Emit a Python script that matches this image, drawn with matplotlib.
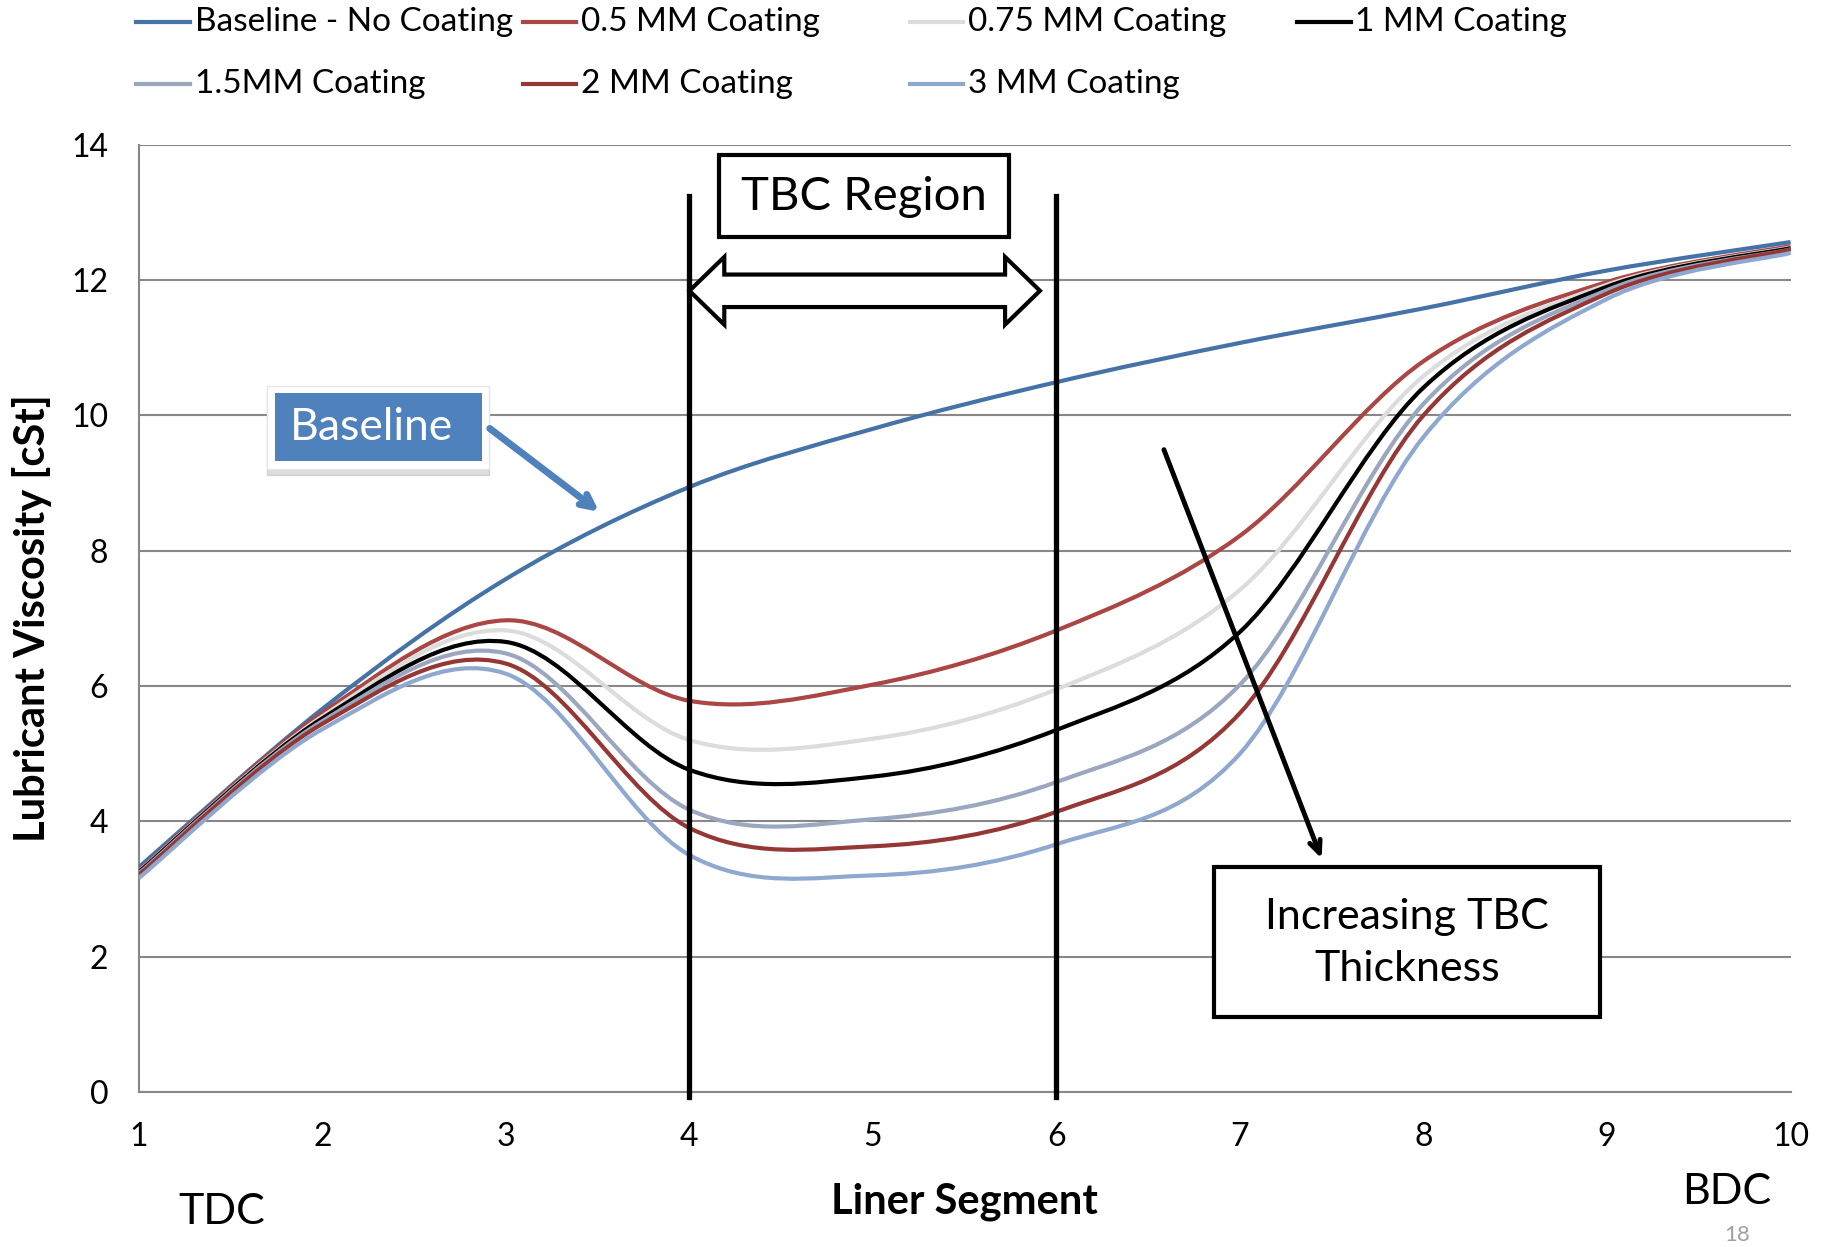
# Viscosidad del lubricante a lo largo del liner, con recubrimientos TBC
import matplotlib.pyplot as plt
import matplotlib.patches as mpatches
from matplotlib.path import Path
from matplotlib.lines import Line2D
import numpy as np

plt.rcParams['font.family'] = ['Lato', 'DejaVu Sans']

segmentos = [1, 2, 3, 4, 5, 6, 7, 8, 9, 10]

baseline = [3.32, 5.66, 7.58, 8.94, 9.80, 10.49, 11.07, 11.58, 12.14, 12.56]
mm_05 = [3.27, 5.60, 6.97, 5.78, 6.02, 6.82, 8.22, 10.80, 11.97, 12.50]
mm_075 = [3.26, 5.55, 6.82, 5.20, 5.22, 5.95, 7.42, 10.58, 11.93, 12.48]
mm_1 = [3.25, 5.52, 6.65, 4.76, 4.66, 5.35, 6.80, 10.41, 11.90, 12.47]
mm_15 = [3.23, 5.48, 6.48, 4.17, 4.03, 4.58, 6.02, 10.17, 11.85, 12.45]
mm_2 = [3.21, 5.44, 6.33, 3.90, 3.63, 4.14, 5.60, 10.00, 11.80, 12.45]
mm_3 = [3.16, 5.36, 6.18, 3.50, 3.20, 3.66, 5.00, 9.68, 11.72, 12.40]

series = [baseline, mm_05, mm_075, mm_1, mm_15, mm_2, mm_3]
etiquetas = ['Baseline - No Coating', '0.5 MM Coating', '0.75 MM Coating', '1 MM Coating',
             '1.5MM Coating', '2 MM Coating', '3 MM Coating']
colores = ['#4572A7', '#AA4643', '#DCDCDC', '#000000', '#9AA7BF', '#953735', '#8EA8D0']


# Curva suavizada tipo Excel (Bezier por segmentos)
def curva_suave(x, y):
    x = np.asarray(x, float)
    y = np.asarray(y, float)
    n = len(x)
    verts = [(x[0], y[0])]
    codes = [Path.MOVETO]
    for i in range(n - 1):
        x0, y0 = (x[i - 1], y[i - 1]) if i > 0 else (x[i], y[i])
        x3, y3 = (x[i + 2], y[i + 2]) if i + 2 < n else (x[i + 1], y[i + 1])
        c1 = (x[i] + (x[i + 1] - x0) / 6, y[i] + (y[i + 1] - y0) / 6)
        c2 = (x[i + 1] - (x3 - x[i]) / 6, y[i + 1] - (y3 - y[i]) / 6)
        verts += [c1, c2, (x[i + 1], y[i + 1])]
        codes += [Path.CURVE4] * 3
    return Path(verts, codes)


fig = plt.figure(figsize=(18.29, 12.47), dpi=100)
ax = fig.add_axes([0.0759, 0.1244, 0.9031, 0.7596])

for y, c in zip(series, colores):
    ax.add_patch(mpatches.PathPatch(curva_suave(segmentos, y), fill=False,
                                    edgecolor=c, lw=3.0, zorder=3))

ax.set_xlim(1, 10)
ax.set_ylim(0, 14)
ax.set_xticks(segmentos)
ax.set_yticks(np.arange(0, 15, 2))
ax.tick_params(labelsize=23, length=0)
ax.tick_params(axis='x', pad=22)
ax.tick_params(axis='y', pad=22)
ax.grid(axis='y', color='#888888', lw=1.5)
ax.set_axisbelow(True)
for s in ['top', 'right']:
    ax.spines[s].set_visible(False)
for s in ['left', 'bottom']:
    ax.spines[s].set_color('#888888')
    ax.spines[s].set_linewidth(1.5)

ax.set_xlabel('Liner Segment', fontsize=30, fontweight='bold', labelpad=22)
ax.set_ylabel('Lubricant Viscosity [cSt]', fontsize=30, fontweight='bold', labelpad=14)

# Región TBC
for xv in [4, 6]:
    ax.plot([xv, xv], [-0.08, 13.24], color='black', lw=3.8, clip_on=False, zorder=5)

ax.add_patch(mpatches.Rectangle((4.16, 12.64), 1.58, 1.2, facecolor='white',
                                edgecolor='black', lw=3, zorder=6, clip_on=False))
ax.text(4.95, 13.22, 'TBC Region', fontsize=34, ha='center', va='center', zorder=7)

flecha = [(4.0, 11.84), (4.19, 12.34), (4.19, 12.08), (5.72, 12.08), (5.72, 12.34),
          (5.91, 11.84), (5.72, 11.34), (5.72, 11.60), (4.19, 11.60), (4.19, 11.34)]
ax.add_patch(mpatches.Polygon(flecha, closed=True, facecolor='white', edgecolor='black',
                              lw=3, zorder=6, joinstyle='miter'))

# Etiqueta Baseline
marco = mpatches.Rectangle((1.70, 9.21), 1.21, 1.22, facecolor='white',
                           edgecolor='#E6E6E6', lw=1, zorder=6)
ax.add_patch(mpatches.Shadow(marco, 0.0, -0.07, alpha=0.18, zorder=5.5))
ax.add_patch(marco)
ax.add_patch(mpatches.Rectangle((1.744, 9.33), 1.126, 1.0, facecolor='#4F81BD',
                                edgecolor='none', zorder=7))
ax.text(2.27, 9.82, 'Baseline', fontsize=32, color='white', ha='center', va='center', zorder=8)
ax.annotate('', xy=(3.52, 8.55), xytext=(2.90, 9.83),
            arrowprops=dict(arrowstyle='->,head_length=0.9,head_width=0.45',
                            color='#4F81BD', lw=5), zorder=8)

# Flecha de espesor creciente
ax.annotate('', xy=(7.45, 3.41), xytext=(6.58, 9.53),
            arrowprops=dict(arrowstyle='->,head_length=0.9,head_width=0.4',
                            color='black', lw=3.5), zorder=8)
ax.add_patch(mpatches.Rectangle((6.86, 1.10), 2.10, 2.23, facecolor='white',
                                edgecolor='black', lw=3, zorder=6))
ax.text(7.91, 2.20, 'Increasing TBC\nThickness', fontsize=31, ha='center', va='center',
        linespacing=1.45, zorder=7)

# TDC / BDC
fig.text(0.121, 0.028, 'TDC', fontsize=31, ha='center', va='center')
fig.text(0.944, 0.044, 'BDC', fontsize=31, ha='center', va='center')
fig.text(0.950, 0.010, '18', fontsize=16, color='#A0A0A0', ha='center', va='center')

# Leyenda manual en dos filas
pos_x = [0.0746, 0.2857, 0.4974, 0.7092]
pos_y = [0.982, 0.933]
for i, (lab, c) in enumerate(zip(etiquetas, colores)):
    fila, col = divmod(i, 4)
    x0 = pos_x[col]
    yy = pos_y[fila]
    fig.add_artist(Line2D([x0, x0 + 0.0293], [yy, yy], color=c, lw=3.0))
    fig.text(x0 + 0.0318, yy, lab, fontsize=24, ha='left', va='center')

fig.savefig('out.png', dpi=100)
